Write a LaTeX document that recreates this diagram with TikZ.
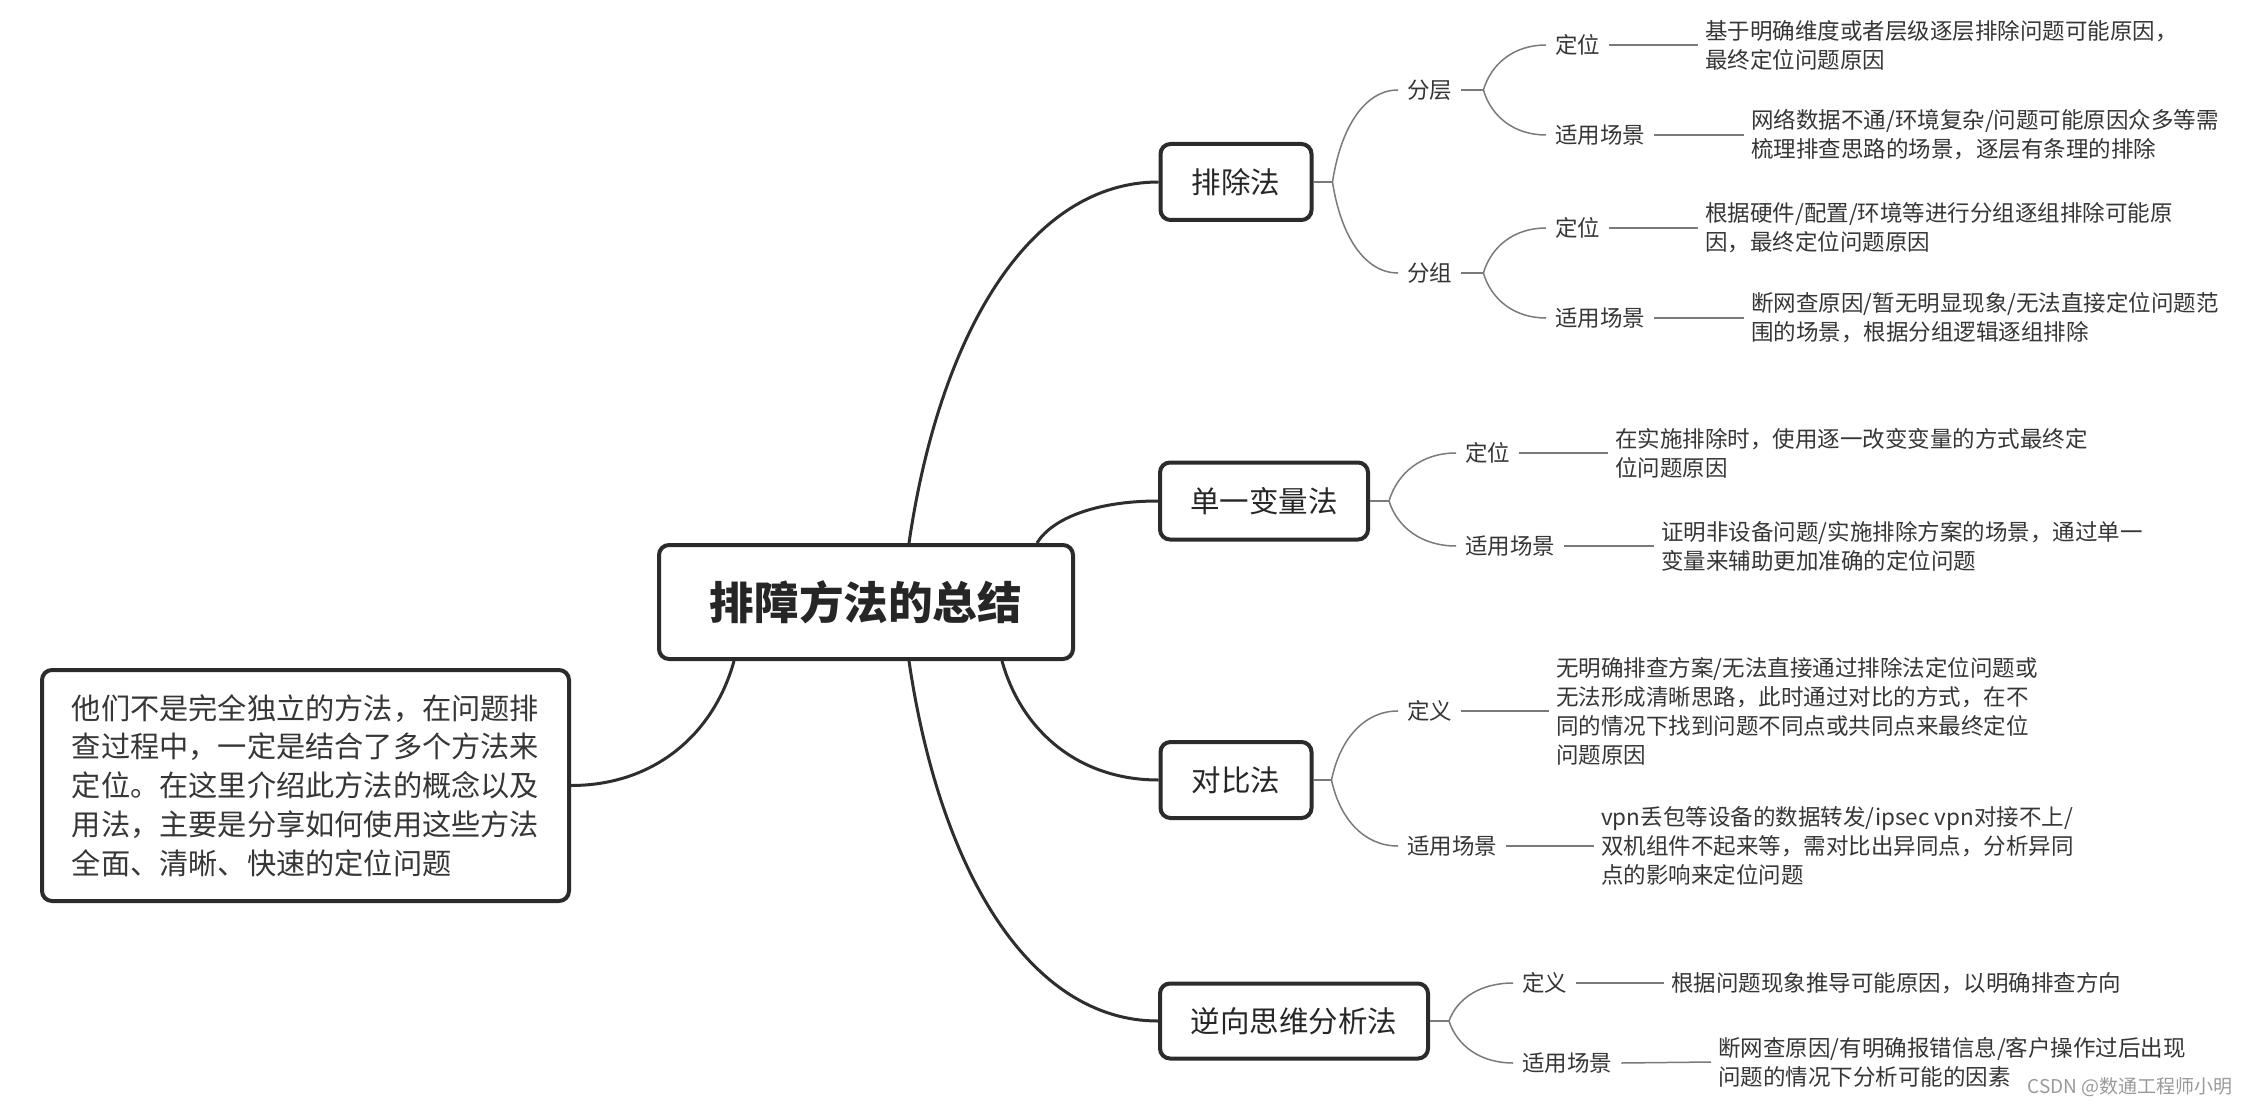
\documentclass[tikz,border=0pt]{standalone}
\usepackage{fontspec}
\setmainfont{Noto Sans CJK SC}
\usetikzlibrary{calc}
\definecolor{boxline}{HTML}{2B2B2B}
\definecolor{mainline}{HTML}{2E2E2E}
\definecolor{subline}{HTML}{7A7A7A}
\definecolor{txt}{HTML}{363636}
\definecolor{wm}{HTML}{9A9A9A}
\begin{document}
\begin{tikzpicture}[x=1pt,y=-1pt,
  box/.style={draw=boxline, line width=4pt, rounded corners=10pt, fill=white, inner sep=0pt,
    font=\fontsize{29.5}{36}\selectfont, text=black!85},
  mainbox/.style={box, font=\fontsize{44.6}{52}\selectfont\bfseries},
  lbl/.style={anchor=west, inner xsep=9pt, inner ysep=2pt, font=\fontsize{22.5}{29}\selectfont, text=txt},
  leaf/.style={anchor=west, inner xsep=7pt, inner ysep=2pt, align=left, font=\fontsize{22.5}{29}\selectfont, text=txt},
  mainconn/.style={draw=mainline, line width=3pt},
  subconn/.style={draw=subline, line width=1.5pt},
  curve/.style={to path={let \p1=(\tikztostart), \p2=(\tikztotarget) in
     .. controls ({\x1+0.125*(\x2-\x1)},{\y1+0.59*(\y2-\y1)}) and ({\x2-0.51*(\x2-\x1)},{\y2}) .. (\tikztotarget)}}
]
\fill[white] (0,0) rectangle (2248,1107);
\useasboundingbox (0,0) rectangle (2248,1107);

% main boxes
\node[mainbox, minimum width=414pt, minimum height=114pt] (root) at (866,602) {排障方法的总结};
\node[box, minimum width=527pt, minimum height=231pt, align=left,
      font=\fontsize{29.2}{38.75}\selectfont, text=txt] (note) at (305.5,785.5)
  {他们不是完全独立的方法，在问题排\\查过程中，一定是结合了多个方法来\\定位。在这里介绍此方法的概念以及\\用法，主要是分享如何使用这些方法\\全面、清晰、快速的定位问题};
\node[box, minimum width=151pt, minimum height=76pt] (b1) at (1236,182) {排除法};
\node[box, minimum width=208pt, minimum height=77pt] (b2) at (1264,501) {单一变量法};
\node[box, minimum width=151pt, minimum height=76pt] (b3) at (1236,780) {对比法};
\node[box, minimum width=268pt, minimum height=75pt] (b4) at (1294,1021) {逆向思维分析法};

% start points on root
\coordinate (s1) at ([xshift=252pt]root.north west);
\coordinate (s2) at ([xshift=380pt]root.north west);
\coordinate (s3) at ([xshift=345pt]root.south west);
\coordinate (s4) at ([xshift=252pt]root.south west);
\coordinate (s5) at ([xshift=77pt]root.south west);

\draw[mainconn] (s1) to[curve] (b1.west);
\draw[mainconn] (s2) to[curve] (b2.west);
\draw[mainconn] (s3) to[curve] (b3.west);
\draw[mainconn] (s4) to[curve] (b4.west);
\draw[mainconn] (s5) to[curve] (note.east);

% ---- 排除法
\coordinate (j1) at ([xshift=19pt]b1.east);
\node[lbl] (fc) at (1398,90) {分层};
\node[lbl] (fz) at (1398,273) {分组};
\coordinate (k1) at ([xshift=22pt]fc.east);
\coordinate (k2) at ([xshift=22pt]fz.east);
\node[lbl] (fc1) at (1546,45) {定位};
\node[lbl] (fc2) at (1546,135) {适用场景};
\node[lbl] (fz1) at (1546,228) {定位};
\node[lbl] (fz2) at (1546,318) {适用场景};
\node[leaf] (fc1t) at (1698,45) {基于明确维度或者层级逐层排除问题可能原因，\\最终定位问题原因};
\node[leaf] (fc2t) at (1744,135) {网络数据不通/环境复杂/问题可能原因众多等需\\梳理排查思路的场景，逐层有条理的排除};
\node[leaf] (fz1t) at (1698,228) {根据硬件/配置/环境等进行分组逐组排除可能原\\因，最终定位问题原因};
\node[leaf] (fz2t) at (1744,318) {断网查原因/暂无明显现象/无法直接定位问题范\\围的场景，根据分组逻辑逐组排除};
\draw[subconn] (b1.east) -- (j1);
\draw[subconn] (j1) to[curve] (fc.west);
\draw[subconn] (j1) to[curve] (fz.west);
\draw[subconn] (fc.east) -- (k1);
\draw[subconn] (fz.east) -- (k2);
\draw[subconn] (k1) to[curve] (fc1.west);
\draw[subconn] (k1) to[curve] (fc2.west);
\draw[subconn] (k2) to[curve] (fz1.west);
\draw[subconn] (k2) to[curve] (fz2.west);
\draw[subconn] (fc1.east) -- (fc1t.west);
\draw[subconn] (fc2.east) -- (fc2t.west);
\draw[subconn] (fz1.east) -- (fz1t.west);
\draw[subconn] (fz2.east) -- (fz2t.west);

% ---- 单一变量法
\coordinate (j2) at ([xshift=19pt]b2.east);
\node[lbl] (d1) at (1456,453) {定位};
\node[lbl] (d2) at (1456,546) {适用场景};
\node[leaf] (d1t) at (1608,453) {在实施排除时，使用逐一改变变量的方式最终定\\位问题原因};
\node[leaf] (d2t) at (1654,546) {证明非设备问题/实施排除方案的场景，通过单一\\变量来辅助更加准确的定位问题};
\draw[subconn] (b2.east) -- (j2);
\draw[subconn] (j2) to[curve] (d1.west);
\draw[subconn] (j2) to[curve] (d2.west);
\draw[subconn] (d1.east) -- (d1t.west);
\draw[subconn] (d2.east) -- (d2t.west);

% ---- 对比法
\coordinate (j3) at ([xshift=18pt]b3.east);
\node[lbl] (c1) at (1398,711) {定义};
\node[lbl] (c2) at (1398,846) {适用场景};
\node[leaf] (c1t) at (1549,711) {无明确排查方案/无法直接通过排除法定位问题或\\无法形成清晰思路，此时通过对比的方式，在不\\同的情况下找到问题不同点或共同点来最终定位\\问题原因};
\node[leaf] (c2t) at (1594,846) {vpn丢包等设备的数据转发/ipsec vpn对接不上/\\双机组件不起来等，需对比出异同点，分析异同\\点的影响来定位问题};
\draw[subconn] (b3.east) -- (j3);
\draw[subconn] (j3) to[curve] (c1.west);
\draw[subconn] (j3) to[curve] (c2.west);
\draw[subconn] (c1.east) -- (c1t.west);
\draw[subconn] (c2.east) -- (c2t.west);

% ---- 逆向思维分析法
\coordinate (j4) at ([xshift=19pt]b4.east);
\node[lbl] (n1) at (1513,983) {定义};
\node[lbl] (n2) at (1513,1063) {适用场景};
\node[leaf] (n1t) at (1664,983) {根据问题现象推导可能原因，以明确排查方向};
\node[leaf] (n2t) at (1711,1062) {断网查原因/有明确报错信息/客户操作过后出现\\问题的情况下分析可能的因素};
\draw[subconn] (b4.east) -- (j4);
\draw[subconn] (j4) to[curve] (n1.west);
\draw[subconn] (j4) to[curve] (n2.west);
\draw[subconn] (n1.east) -- (n1t.west);
\draw[subconn] (n2.east) -- (n2t.west);

% watermark
\node[anchor=east, inner sep=0pt, font=\fontsize{19}{23}\selectfont, text=wm] (wmk) at (2233,1087) {CSDN @数通工程师小明};
\end{tikzpicture}
\end{document}
